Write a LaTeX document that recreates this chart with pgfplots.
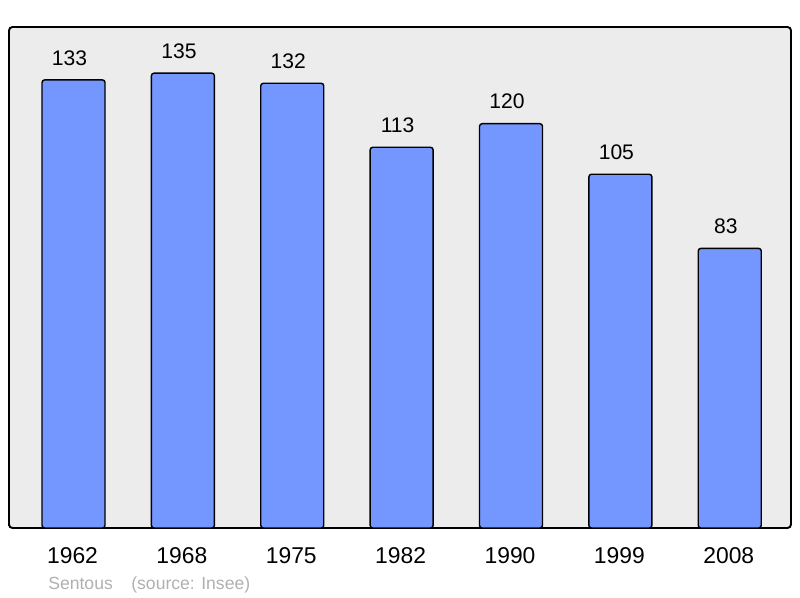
\documentclass[border=0pt]{standalone}
\usepackage{pgfplots}
\pgfplotsset{compat=1.18}
\usepackage{fontspec}
\setmainfont{Liberation Sans}
\definecolor{barblue}{HTML}{7396FF}
\definecolor{panel}{HTML}{ECECEC}
\definecolor{foot}{HTML}{B0B0B0}
\begin{document}
\begin{tikzpicture}
% page frame, 1px = 0.02cm
\path (0,0) rectangle (16cm,11.96cm);
\begin{axis}[
    at={(0.18cm,1.40cm)}, anchor=south west,
    scale only axis,
    width=15.64cm, height=10.02cm,
    xmin=-0.59, xmax=6.56,
    ymin=0, ymax=148.7,
    ybar, bar width=1.26cm,
    axis background/.style={fill=panel},
    axis line style={line width=1.1pt, rounded corners=2pt},
    xtick={0,...,6},
    xticklabels={1962,1968,1975,1982,1990,1999,2008},
    ytick=\empty,
    major tick length=0pt,
    xticklabel style={anchor=center, yshift=-0.56cm, xshift=-0.02cm, font=\fontsize{13}{15}\selectfont},
    nodes near coords,
    every node near coord/.append style={anchor=center, yshift=0.44cm, xshift=-0.08cm, font=\fontsize{12}{14}\selectfont, text=black},
    /pgf/number format/assume math mode=true,
]
\addplot[fill=barblue, draw=black, line width=0.8pt, rounded corners=1.5pt]
    coordinates {(0,133) (1,135) (2,132) (3,113) (4,120) (5,105) (6,83)};
\end{axis}
\node[anchor=base west, text=foot, font=\fontsize{10}{12}\selectfont, inner sep=0pt] at (0.96cm,0.16cm) {Sentous};
\node[anchor=base west, text=foot, font=\fontsize{10}{12}\selectfont, inner sep=0pt] at (2.62cm,0.16cm) {(source: Insee)};
\end{tikzpicture}
\end{document}
